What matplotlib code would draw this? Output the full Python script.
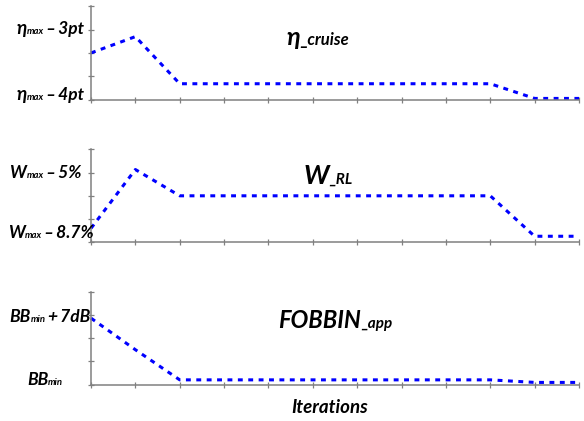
import matplotlib
matplotlib.use("Agg")
import matplotlib.pyplot as plt
import matplotlib.transforms as mtransforms

# ---- data ----
iterations = list(range(12))
eta_cruise = [2.0, 2.7, 0.68, 0.68, 0.68, 0.68, 0.68, 0.68, 0.68, 0.68, 0.05, 0.05]
w_rl = [0.6, 3.13, 2.0, 2.0, 2.0, 2.0, 2.0, 2.0, 2.0, 2.0, 0.26, 0.26]
fobbin_app = [2.86, 1.5, 0.2, 0.2, 0.2, 0.2, 0.2, 0.2, 0.2, 0.2, 0.09, 0.09]

FAM = ['Lato', 'DejaVu Sans']
W, H = 584, 421
fig = plt.figure(figsize=(W / 100, H / 100), dpi=100)

def add_axes(top_px, bottom_px):
    left, right = 91, 579
    ax = fig.add_axes([left / W, 1 - bottom_px / H, (right - left) / W, (bottom_px - top_px) / H])
    ax.set_xlim(0, 11)
    ax.set_ylim(0, 4)
    ax.set_xticks(range(12))
    ax.set_yticks(range(5))
    ax.set_xticklabels([])
    ax.set_yticklabels([])
    for s in ['top', 'right']:
        ax.spines[s].set_visible(False)
    for s in ['left', 'bottom']:
        ax.spines[s].set_color('#808080')
        ax.spines[s].set_linewidth(1.1)
    ax.tick_params(direction='inout', length=4.5, width=0.9, color='#808080')
    ax.patch.set_alpha(0)
    return ax

axes = [add_axes(6.3, 99.6), add_axes(149.3, 242.3), add_axes(291.7, 384.5)]
for ax, vals in zip(axes, [eta_cruise, w_rl, fobbin_app]):
    ax.plot(iterations, vals, color='#0000FF', lw=2.2, linestyle=(0, (1.6, 1.8)),
            dash_capstyle='butt', clip_on=False)

renderer = fig.canvas.get_renderer()

def rich(x, y, pieces, ha='left'):
    texts = []
    for s, size in pieces:
        t = fig.text(0, 0, s, fontsize=size, fontweight='bold', style='italic', family=FAM,
                     va='baseline', ha='left', transform=mtransforms.IdentityTransform())
        texts.append(t)
    widths = [t.get_window_extent(renderer).width for t in texts]
    total = sum(widths)
    if ha == 'right':
        x0 = x - total
    elif ha == 'center':
        x0 = x - total / 2
    else:
        x0 = x
    for t, w in zip(texts, widths):
        t.set_position((x0, H - y))
        x0 += w

TS = "\u2009"
# panel titles
rich(286, 45, [("η", 18), ("_cruise", 12)])
rich(304, 184, [("W", 19), ("_RL", 11)])
rich(278, 328, [("FOBBIN", 17), ("_app", 11)])
rich(330, 413, [("Iterations", 13.5)], ha='center')

# y labels
rich(84, 34, [("η", 13.5), ("max", 6.8), (TS + "–" + TS + "3pt", 12.5)], ha='right')
rich(84, 100, [("η", 13.5), ("max", 6.8), (TS + "–" + TS + "4pt", 12.5)], ha='right')
rich(81, 178, [("W", 12.5), ("max", 6.8), (TS + "–" + TS + "5%", 12.5)], ha='right')
rich(94, 238, [("W", 12.5), ("max", 6.8), (TS + "–" + TS + "8.7%", 12.5)], ha='right')
rich(90, 322, [("BB", 12.5), ("min", 6.8), (TS + "+" + TS + "7dB", 12.5)], ha='right')
rich(27, 385, [("BB", 12.5), ("min", 6.8)])

fig.savefig("out.png", dpi=100)
